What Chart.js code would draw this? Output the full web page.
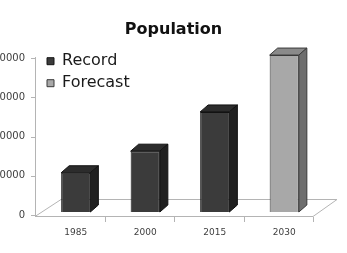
<!DOCTYPE html>
<html>
<head>
<meta charset="utf-8">
<script src="https://cdn.jsdelivr.net/npm/chart.js@4"></script>
<style>
  html, body { margin: 0; padding: 0; background: #fff; }
  canvas { display: block; }
</style>
</head>
<body>
<canvas id="chart" width="347" height="253"></canvas>
<script>
const years = ['1985', '2000', '2015', '2030'];
const recordValues = [10000, 15500, 25500, null];
const forecastValues = [null, null, null, 40000];
const yTicks = [0, 10000, 20000, 30000, 40000];

const FONT = 'DejaVu Sans';

// top + side faces for the pseudo 3D look, plus floor and wall axis
const depth = { dx: 8, dy: 7 };
const faceColors = [
  { top: '#2c2c2c', side: '#202020', edge: '#111' },
  { top: '#8a8a8a', side: '#6e6e6e', edge: '#3a3a3a' }
];

const threeD = {
  id: 'threeD',
  afterLayout(chart) {
    // legend sits inside the plot area, top-left
    const lg = chart.legend;
    const h = lg.height;
    lg.top = chart.chartArea.top;
    lg.bottom = lg.top + h;
  },
  beforeDatasetsDraw(chart) {
    const { ctx, chartArea, scales } = chart;
    const y0 = scales.y.getPixelForValue(0);
    const l = chartArea.left - 6, r = chartArea.right - 6;
    ctx.save();
    ctx.strokeStyle = '#b4b4b4';
    ctx.lineWidth = 1;
    ctx.beginPath();
    ctx.moveTo(l, y0 + 4.5);
    ctx.lineTo(r, y0 + 4.5);
    ctx.lineTo(r + 24, y0 - 12.5);
    ctx.lineTo(l + 26, y0 - 12.5);
    ctx.closePath();
    ctx.stroke();
    // wall axis line and ticks
    const top = scales.y.getPixelForValue(40000) + 2;
    ctx.beginPath();
    ctx.moveTo(l + 0.5, top);
    ctx.lineTo(l + 0.5, y0 + 4.5);
    yTicks.forEach(v => {
      const p = Math.round(scales.y.getPixelForValue(v) + 3) + 0.5;
      ctx.moveTo(l - 4, p);
      ctx.lineTo(l, p);
    });
    // small category ticks under the floor
    const step = (chartArea.right - chartArea.left) / years.length;
    for (let i = 1; i <= years.length; i++) {
      const x = Math.round(l + step * i) + 0.5;
      ctx.moveTo(x, y0 + 5);
      ctx.lineTo(x, y0 + 10);
    }
    ctx.stroke();
    ctx.restore();
  },
  afterDatasetsDraw(chart) {
    const { ctx } = chart;
    ctx.save();
    ctx.lineWidth = 1;
    chart.data.datasets.forEach((ds, di) => {
      const meta = chart.getDatasetMeta(di);
      const c = faceColors[di];
      meta.data.forEach((bar, i) => {
        if (ds.data[i] == null) return;
        const { x, y, width } = bar.getProps(['x', 'y', 'width'], true);
        const base = bar.base;
        const L = x - width / 2, R = x + width / 2;
        ctx.strokeStyle = c.edge;
        // top face
        ctx.fillStyle = c.top;
        ctx.beginPath();
        ctx.moveTo(L, y);
        ctx.lineTo(L + depth.dx, y - depth.dy);
        ctx.lineTo(R + depth.dx, y - depth.dy);
        ctx.lineTo(R, y);
        ctx.closePath();
        ctx.fill();
        ctx.stroke();
        // side face
        ctx.fillStyle = c.side;
        ctx.beginPath();
        ctx.moveTo(R, y);
        ctx.lineTo(R + depth.dx, y - depth.dy);
        ctx.lineTo(R + depth.dx, base - depth.dy);
        ctx.lineTo(R, base);
        ctx.closePath();
        ctx.fill();
        ctx.stroke();
      });
    });
    ctx.restore();
  }
};

new Chart(document.getElementById('chart'), {
  type: 'bar',
  data: {
    labels: years,
    datasets: [
      {
        label: 'Record',
        data: recordValues,
        backgroundColor: '#3b3b3b',
        borderColor: '#151515',
        borderWidth: 1
      },
      {
        label: 'Forecast',
        data: forecastValues,
        backgroundColor: '#a8a8a8',
        borderColor: '#3a3a3a',
        borderWidth: 1
      }
    ]
  },
  options: {
    responsive: false,
    animation: false,
    devicePixelRatio: 1,
    barPercentage: 0.42,
    categoryPercentage: 1,
    layout: { padding: { left: 0, right: 0, top: 0, bottom: 15 } },
    plugins: {
      title: {
        display: true,
        text: 'Population',
        color: '#111',
        font: { family: FONT, size: 16, weight: 'bold' },
        padding: { top: 20, bottom: 8 }
      },
      legend: {
        position: 'chartArea',
        align: 'start',
        labels: {
          boxWidth: 7,
          boxHeight: 7,
          padding: 6,
          color: '#1a1a1a',
          font: { family: FONT, size: 16 }
        }
      },
      tooltip: { enabled: false }
    },
    scales: {
      x: {
        stacked: true,
        afterFit(scale) { scale.height = 26; },
        grid: { display: false, drawTicks: false },
        border: { display: false },
        ticks: { color: '#404040', font: { family: FONT, size: 9 }, padding: 15 }
      },
      y: {
        stacked: true,
        min: 0,
        max: 42000,
        afterBuildTicks(scale) {
          scale.ticks = yTicks.map(v => ({ value: v }));
        },
        afterFit(scale) { scale.width = 41; },
        grid: { display: false, drawTicks: false },
        border: { display: false },
        ticks: {
          color: '#404040',
          font: { family: FONT, size: 10 },
          padding: 16,
          labelOffset: 3,
          callback: v => String(v)
        }
      },
      // empty right-hand gutter so the title stays centred on the page
      gutter: {
        position: 'right',
        afterFit(scale) { scale.width = 28; },
        grid: { display: false, drawTicks: false },
        border: { display: false },
        ticks: { display: false }
      }
    }
  },
  plugins: [threeD]
});
</script>
</body>
</html>
